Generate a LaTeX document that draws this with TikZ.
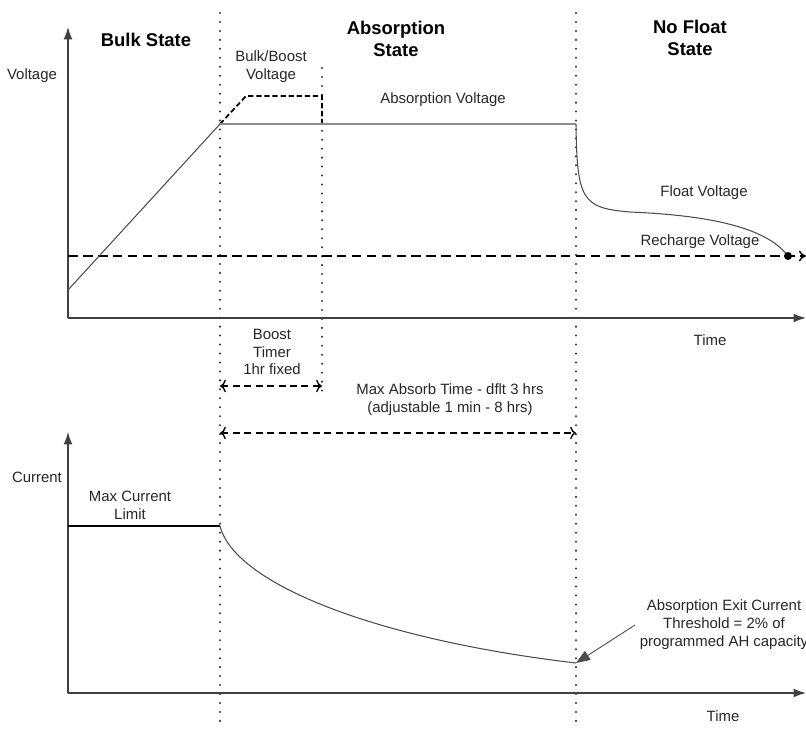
\documentclass[tikz,border=0pt]{standalone}
\usepackage{fontspec}
\setmainfont{Liberation Sans}
\usetikzlibrary{arrows.meta}

\begin{document}
\begin{tikzpicture}[
        x=0.02cm, y=-0.02cm,
        every node/.style={font=\fontsize{8.5}{10.2}\selectfont, align=center, inner sep=0pt, text=black!85},
        statelabel/.style={font=\fontsize{10.5}{12.6}\selectfont\bfseries, text=black},
        axis/.style={-{Latex[length=7pt, width=5pt]}, line width=0.8pt, draw=black!75},
        divider/.style={line width=1.3pt, dash pattern=on 0pt off 5.1pt, line cap=round, draw=black!80},
        level/.style={line width=0.8pt, dash pattern=on 5.5pt off 3pt},
        timer/.style={<->, line width=0.8pt, dash pattern=on 4pt off 2.5pt},
        trace/.style={line width=0.6pt, draw=black!70},
        pointer/.style={-{Triangle[length=8pt, width=6pt]}, line width=0.5pt, draw=black!70}
    ]
    \useasboundingbox (0,0) rectangle (806,731);

    % Key points
    \coordinate (vorig) at (68,318);
    \coordinate (vtop) at (68,27);
    \coordinate (vend) at (806,318);
    \coordinate (iorig) at (68,693);
    \coordinate (itop) at (68,432);
    \coordinate (iend) at (806,693);
    \coordinate (rampstart) at (68,290);
    \coordinate (bulkend) at (220,124);
    \coordinate (boostup) at (246,96);
    \coordinate (boostend) at (322,96);
    \coordinate (boostdrop) at (322,124);
    \coordinate (absend) at (576,124);
    \coordinate (rechstart) at (68,256);
    \coordinate (rechend) at (806,256);
    \coordinate (maxstart) at (68,526);
    \coordinate (maxend) at (220,526);
    \coordinate (exitpt) at (576,663);

    % State dividers
    \draw[divider] (220,13) -- (220,726);
    \draw[divider] (322,68) -- (322,396);
    \draw[divider] (576,13) -- (576,726);

    % Axes
    \draw[axis] (vorig) -- (vtop);
    \draw[axis] (vorig) -- (vend);
    \draw[axis] (iorig) -- (itop);
    \draw[axis] (iorig) -- (iend);

    % Voltage profile
    \draw[level, -{To[length=4pt, width=6pt]}] (rechstart) -- (rechend);
    \draw[trace] (rampstart) -- (bulkend);
    \draw[line width=1pt, dash pattern=on 3pt off 1.6pt] (bulkend) -- (boostup) -- (boostend) -- (boostdrop);
    \draw[line width=1pt, draw=black!45] (bulkend) -- (absend);
    \draw[trace] (absend) .. controls (577,200) and (582,208) .. (630,212)
        .. controls (700,215) and (765,225) .. (788,256) coordinate (rechpt);
    \fill (rechpt) circle (4);

    % Current profile
    \draw[line width=0.8pt] (maxstart) -- (maxend);
    \draw[trace] (maxend) .. controls (235,585) and (380,640) .. (exitpt);

    % Timers
    \coordinate (bt1) at (220,386);
    \coordinate (bt2) at (322,386);
    \coordinate (mt1) at (220,433);
    \coordinate (mt2) at (576,433);
    \draw[timer] (bt1) -- (bt2);
    \draw[timer] (mt1) -- (mt2);

    % Labels
    \node (bulk) at (146,40) [statelabel] {Bulk State};
    \node (absorb) at (396,39) [statelabel] {Absorption\\State};
    \node (nofloat) at (690,38) [statelabel] {No Float\\State};
    \node (vlab) at (32,76) {Voltage};
    \node (ilab) at (37,477) {Current};
    \node (boostv) at (271,67) {Bulk/Boost\\Voltage};
    \node (absv) at (443,100) {Absorption Voltage};
    \node (floatv) at (704,193) {Float Voltage};
    \node (rechv) at (700,242) {Recharge Voltage};
    \node (vtime) at (710,340) {Time};
    \node (itime) at (723,716) {Time};
    \node (boostt) at (272,352) {Boost\\Timer\\1hr fixed};
    \node (maxt) at (450,400) {Max Absorb Time - dflt 3 hrs\\(adjustable 1 min - 8 hrs)};
    \node (maxi) at (130,505) {Max Current\\Limit};
    \node (exitlab) at (724,625) {Absorption Exit Current\\Threshold = 2\% of\\programmed AH capacity};

    % Exit pointer
    \coordinate (ptail) at (635,625);
    \draw[pointer] (ptail) -- (exitpt);

\end{tikzpicture}
\end{document}
